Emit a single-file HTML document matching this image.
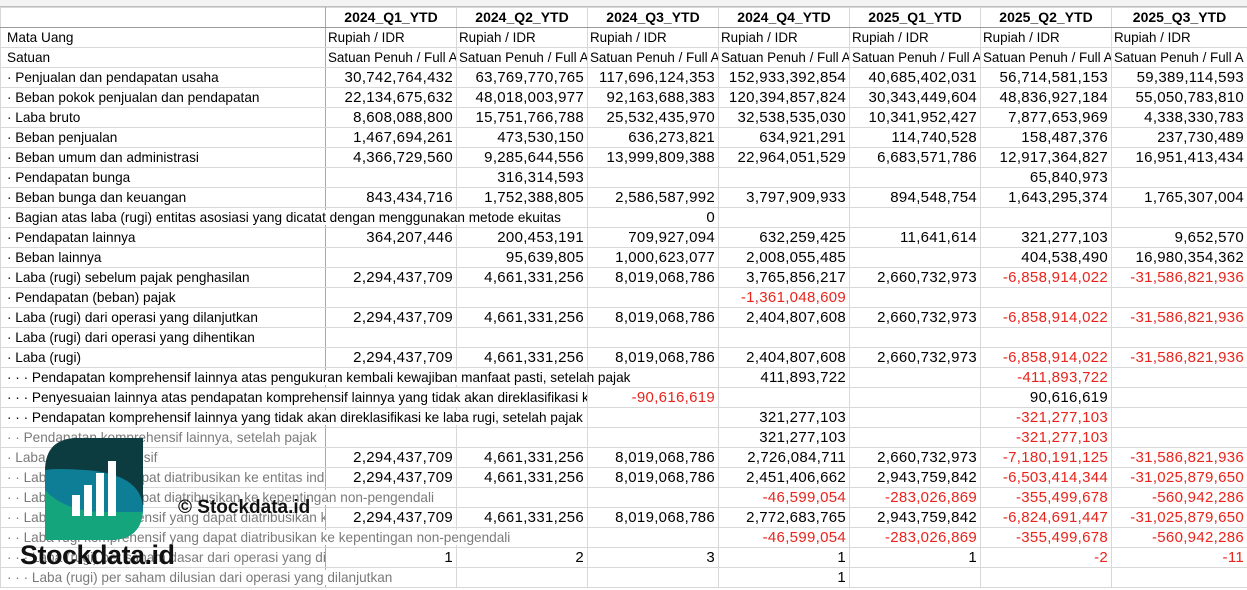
<!DOCTYPE html>
<html><head><meta charset="utf-8">
<style>
body{margin:0;width:1247px;height:590px;overflow:hidden;background:#fff;font-family:"Liberation Sans",Arial,sans-serif;position:relative}
.top{position:absolute;left:0;top:0;width:1247px;height:6px;background:#f3f3f3;border-bottom:1px solid #bdbdbd}
table{position:absolute;left:0;top:7px;border-collapse:collapse;table-layout:fixed;width:1247px}
td{height:19px;padding:0 3px;border:1px solid #d8d8d8;white-space:nowrap;font-size:15px;letter-spacing:0.3px;text-align:right;overflow:hidden;color:#000;line-height:19px}
td.l{text-align:left;font-size:13.6px;letter-spacing:0;padding-left:6px;border-right:1px solid #a8a8a8;overflow:visible}
td.l span{position:relative;z-index:2;background:#fff;padding-right:2px}
td.c{overflow:hidden;letter-spacing:0;font-size:13.4px;text-align:left;padding-left:2px}
tr.h td{font-weight:bold;text-align:center;font-size:14px;letter-spacing:0;border-bottom:1px solid #9a9a9a}
.r{color:#e8231b}
.g{color:#7a7a7a}
.clip{display:inline-block;overflow:hidden;vertical-align:top}
svg.logo{position:absolute;left:45px;top:438px;z-index:5}
.w1{position:absolute;left:20px;top:540px;font-size:27px;font-weight:bold;color:#111;z-index:6;letter-spacing:-0.5px}
.w2{position:absolute;left:178px;top:497px;font-size:19px;font-weight:bold;color:#111;z-index:6}
</style></head><body>
<div class="top"></div>
<table>
<colgroup><col style="width:325px"><col style="width:131px"><col style="width:131px"><col style="width:131px"><col style="width:131px"><col style="width:131px"><col style="width:131px"><col style="width:136px"></colgroup>
<tr class="h"><td class="l" style="border-bottom:1px solid #9a9a9a"></td><td>2024_Q1_YTD</td><td>2024_Q2_YTD</td><td>2024_Q3_YTD</td><td>2024_Q4_YTD</td><td>2025_Q1_YTD</td><td>2025_Q2_YTD</td><td>2025_Q3_YTD</td></tr>
<tr><td class="l">Mata Uang</td><td class="c">Rupiah / IDR</td><td class="c">Rupiah / IDR</td><td class="c">Rupiah / IDR</td><td class="c">Rupiah / IDR</td><td class="c">Rupiah / IDR</td><td class="c">Rupiah / IDR</td><td class="c">Rupiah / IDR</td></tr>
<tr><td class="l">Satuan</td><td class="c">Satuan Penuh / Full A</td><td class="c">Satuan Penuh / Full A</td><td class="c">Satuan Penuh / Full A</td><td class="c">Satuan Penuh / Full A</td><td class="c">Satuan Penuh / Full A</td><td class="c">Satuan Penuh / Full A</td><td class="c">Satuan Penuh / Full A</td></tr>
<tr><td class="l">· Penjualan dan pendapatan usaha</td><td>30,742,764,432</td><td>63,769,770,765</td><td>117,696,124,353</td><td>152,933,392,854</td><td>40,685,402,031</td><td>56,714,581,153</td><td>59,389,114,593</td></tr>
<tr><td class="l">· Beban pokok penjualan dan pendapatan</td><td>22,134,675,632</td><td>48,018,003,977</td><td>92,163,688,383</td><td>120,394,857,824</td><td>30,343,449,604</td><td>48,836,927,184</td><td>55,050,783,810</td></tr>
<tr><td class="l">· Laba bruto</td><td>8,608,088,800</td><td>15,751,766,788</td><td>25,532,435,970</td><td>32,538,535,030</td><td>10,341,952,427</td><td>7,877,653,969</td><td>4,338,330,783</td></tr>
<tr><td class="l">· Beban penjualan</td><td>1,467,694,261</td><td>473,530,150</td><td>636,273,821</td><td>634,921,291</td><td>114,740,528</td><td>158,487,376</td><td>237,730,489</td></tr>
<tr><td class="l">· Beban umum dan administrasi</td><td>4,366,729,560</td><td>9,285,644,556</td><td>13,999,809,388</td><td>22,964,051,529</td><td>6,683,571,786</td><td>12,917,364,827</td><td>16,951,413,434</td></tr>
<tr><td class="l">· Pendapatan bunga</td><td></td><td>316,314,593</td><td></td><td></td><td></td><td>65,840,973</td><td></td></tr>
<tr><td class="l">· Beban bunga dan keuangan</td><td>843,434,716</td><td>1,752,388,805</td><td>2,586,587,992</td><td>3,797,909,933</td><td>894,548,754</td><td>1,643,295,374</td><td>1,765,307,004</td></tr>
<tr><td class="l"><span>· Bagian atas laba (rugi) entitas asosiasi yang dicatat dengan menggunakan metode ekuitas</span></td><td></td><td></td><td>0</td><td></td><td></td><td></td><td></td></tr>
<tr><td class="l">· Pendapatan lainnya</td><td>364,207,446</td><td>200,453,191</td><td>709,927,094</td><td>632,259,425</td><td>11,641,614</td><td>321,277,103</td><td>9,652,570</td></tr>
<tr><td class="l">· Beban lainnya</td><td></td><td>95,639,805</td><td>1,000,623,077</td><td>2,008,055,485</td><td></td><td>404,538,490</td><td>16,980,354,362</td></tr>
<tr><td class="l">· Laba (rugi) sebelum pajak penghasilan</td><td>2,294,437,709</td><td>4,661,331,256</td><td>8,019,068,786</td><td>3,765,856,217</td><td>2,660,732,973</td><td class="r">-6,858,914,022</td><td class="r">-31,586,821,936</td></tr>
<tr><td class="l">· Pendapatan (beban) pajak</td><td></td><td></td><td></td><td class="r">-1,361,048,609</td><td></td><td></td><td></td></tr>
<tr><td class="l">· Laba (rugi) dari operasi yang dilanjutkan</td><td>2,294,437,709</td><td>4,661,331,256</td><td>8,019,068,786</td><td>2,404,807,608</td><td>2,660,732,973</td><td class="r">-6,858,914,022</td><td class="r">-31,586,821,936</td></tr>
<tr><td class="l">· Laba (rugi) dari operasi yang dihentikan</td><td></td><td></td><td></td><td></td><td></td><td></td><td></td></tr>
<tr><td class="l">· Laba (rugi)</td><td>2,294,437,709</td><td>4,661,331,256</td><td>8,019,068,786</td><td>2,404,807,608</td><td>2,660,732,973</td><td class="r">-6,858,914,022</td><td class="r">-31,586,821,936</td></tr>
<tr><td class="l"><span>· · · Pendapatan komprehensif lainnya atas pengukuran kembali kewajiban manfaat pasti, setelah pajak</span></td><td></td><td></td><td></td><td>411,893,722</td><td></td><td class="r">-411,893,722</td><td></td></tr>
<tr><td class="l"><span class="clip" style="width:578px">· · · Penyesuaian lainnya atas pendapatan komprehensif lainnya yang tidak akan direklasifikasi ke laba rugi, setelah pajak</span></td><td></td><td></td><td class="r">-90,616,619</td><td></td><td></td><td>90,616,619</td><td></td></tr>
<tr><td class="l"><span>· · · Pendapatan komprehensif lainnya yang tidak akan direklasifikasi ke laba rugi, setelah pajak</span></td><td></td><td></td><td></td><td>321,277,103</td><td></td><td class="r">-321,277,103</td><td></td></tr>
<tr><td class="l g">· · Pendapatan komprehensif lainnya, setelah pajak</td><td></td><td></td><td></td><td>321,277,103</td><td></td><td class="r">-321,277,103</td><td></td></tr>
<tr><td class="l g">· Laba rugi komprehensif</td><td>2,294,437,709</td><td>4,661,331,256</td><td>8,019,068,786</td><td>2,726,084,711</td><td>2,660,732,973</td><td class="r">-7,180,191,125</td><td class="r">-31,586,821,936</td></tr>
<tr><td class="l g"><span class="clip" style="width:316px">· · Laba (rugi) yang dapat diatribusikan ke entitas induk</span></td><td>2,294,437,709</td><td>4,661,331,256</td><td>8,019,068,786</td><td>2,451,406,662</td><td>2,943,759,842</td><td class="r">-6,503,414,344</td><td class="r">-31,025,879,650</td></tr>
<tr><td class="l g"><span>· · Laba (rugi) yang dapat diatribusikan ke kepentingan non-pengendali</span></td><td></td><td></td><td></td><td class="r">-46,599,054</td><td class="r">-283,026,869</td><td class="r">-355,499,678</td><td class="r">-560,942,286</td></tr>
<tr><td class="l g"><span class="clip" style="width:316px">· · Laba rugi komprehensif yang dapat diatribusikan ke entitas induk</span></td><td>2,294,437,709</td><td>4,661,331,256</td><td>8,019,068,786</td><td>2,772,683,765</td><td>2,943,759,842</td><td class="r">-6,824,691,447</td><td class="r">-31,025,879,650</td></tr>
<tr><td class="l g"><span>· · Laba rugi komprehensif yang dapat diatribusikan ke kepentingan non-pengendali</span></td><td></td><td></td><td></td><td class="r">-46,599,054</td><td class="r">-283,026,869</td><td class="r">-355,499,678</td><td class="r">-560,942,286</td></tr>
<tr><td class="l g"><span class="clip" style="width:316px">· · · Laba (rugi) per saham dasar dari operasi yang dilanjutkan</span></td><td>1</td><td>2</td><td>3</td><td>1</td><td>1</td><td class="r">-2</td><td class="r">-11</td></tr>
<tr><td class="l g"><span>· · · Laba (rugi) per saham dilusian dari operasi yang dilanjutkan</span></td><td></td><td></td><td></td><td>1</td><td></td><td></td><td></td></tr>
</table>
<svg class="logo" width="98" height="102" viewBox="0 0 98 102">
<defs><clipPath id="cp"><path d="M33,0 H98 V69 Q98,102 65,102 H0 V33 Q0,0 33,0 Z"/></clipPath></defs>
<g clip-path="url(#cp)">
<rect width="98" height="102" fill="#0c3c3f"/>
<path d="M0,32 Q10,30 40,32 Q98,36 98,72 V102 H0 Z" fill="#0e7e97"/>
<path d="M0,52 Q18,72 55,74 H98 V102 H0 Z" fill="#14a57d"/>
<rect x="27" y="57" width="8" height="21" fill="#fff"/>
<rect x="39" y="47" width="8" height="31" fill="#fff"/>
<rect x="51" y="35" width="8" height="43" fill="#fff"/>
<rect x="63" y="23" width="8" height="55" fill="#fff"/>
</g></svg>
<div class="w2">© Stockdata.id</div>
<div class="w1">Stockdata.id</div>
</body></html>
